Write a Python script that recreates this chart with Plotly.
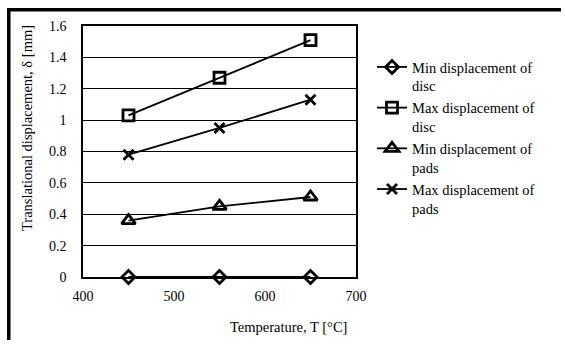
import plotly.graph_objects as go

temperature = [450, 550, 650]
min_disc = [0.0, 0.0, 0.0]
max_disc = [1.03, 1.27, 1.51]
min_pads = [0.36, 0.45, 0.51]
max_pads = [0.78, 0.95, 1.13]

series = [
    ("Min displacement of<br>disc", min_disc, "diamond-open", 10),
    ("Max displacement of<br>disc", max_disc, "square-open", 11),
    ("Min displacement of<br>pads", min_pads, "triangle-up-open", 12),
    ("Max displacement of<br>pads", max_pads, "x-thin", 10),
]

FONT = "Liberation Serif, Times New Roman, serif"

fig = go.Figure()
for name, vals, sym, size in series:
    fig.add_trace(go.Scatter(
        x=temperature, y=vals, name=name, mode="lines+markers",
        line=dict(color="black", width=1.8),
        marker=dict(symbol=sym, size=size, color="black",
                    line=dict(color="black", width=2.8)),
        cliponaxis=False,
    ))

W, H = 565, 344
L, R, T, B = 83, 356, 26, 277
pw, ph = R - L, B - T

def px(x):
    return (x - L) / pw

def py(y):
    return (B - y) / ph

fig.update_layout(
    width=W, height=H,
    margin=dict(l=L, r=W - R, t=T, b=H - B, pad=0),
    paper_bgcolor="white", plot_bgcolor="white",
    font=dict(family=FONT, size=14, color="black"),
    showlegend=True,
    legend=dict(
        x=px(372), y=py(51), xanchor="left", yanchor="top",
        font=dict(family=FONT, size=14.5, color="black"),
        valign="top", itemwidth=30, tracegroupgap=4,
        bgcolor="rgba(0,0,0,0)",
    ),
    xaxis=dict(
        range=[400, 700], tickvals=[400, 500, 600, 700],
        showgrid=False, zeroline=False,
        showline=True, linecolor="black", linewidth=1.5, mirror=True,
        ticks="", ticklabelstandoff=5,
        tickfont=dict(family=FONT, size=14, color="black"),
    ),
    yaxis=dict(
        range=[0, 1.6], tickvals=[0, 0.2, 0.4, 0.6, 0.8, 1.0, 1.2, 1.4, 1.6],
        ticktext=["0", "0.2", "0.4", "0.6", "0.8", "1", "1.2", "1.4", "1.6"],
        showgrid=True, gridcolor="black", gridwidth=1,
        zeroline=False,
        showline=True, linecolor="black", linewidth=1.5, mirror=True,
        ticks="", ticklabelstandoff=12,
        tickfont=dict(family=FONT, size=14, color="black"),
    ),
    annotations=[
        dict(text="Translational displacement, δ [mm]", xref="paper", yref="paper",
             x=px(27), y=py(128), textangle=-90, showarrow=False,
             xanchor="center", yanchor="middle",
             font=dict(family=FONT, size=14.5, color="black")),
        dict(text="Temperature, T [°C]", xref="paper", yref="paper",
             x=px(288), y=py(327), showarrow=False,
             xanchor="center", yanchor="middle",
             font=dict(family=FONT, size=14.5, color="black")),
    ],
    shapes=[
        dict(type="rect", xref="paper", yref="paper",
             x0=px(7), x1=px(W - 4), y0=py(8), y1=py(11.5),
             line=dict(width=0), fillcolor="black"),
        dict(type="rect", xref="paper", yref="paper",
             x0=px(7), x1=px(10.5), y0=py(8), y1=py(H - 4),
             line=dict(width=0), fillcolor="black"),
    ],
)

fig.write_html("out.html")
